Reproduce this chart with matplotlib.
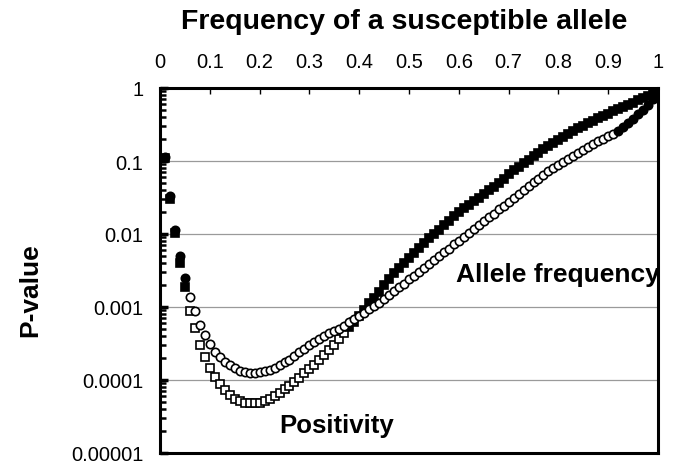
import numpy as np
import matplotlib
matplotlib.use("Agg")
import matplotlib.pyplot as plt
from matplotlib.ticker import LogLocator, NullFormatter

plt.rcParams['font.family'] = ['Liberation Sans', 'DejaVu Sans']

# Frequency of the susceptible allele (0.01 .. 1.00)
freq = np.round(np.arange(1, 101) * 0.01, 2)

# log10 P-values
positivity_log_p = [
    -0.96, -1.52, -1.99, -2.40, -2.73, -3.05, -3.29, -3.52, -3.69, -3.84,
    -3.96, -4.06, -4.14, -4.21, -4.26, -4.29, -4.31, -4.32, -4.32, -4.31,
    -4.29, -4.26, -4.22, -4.18, -4.13, -4.08, -4.03, -3.97, -3.91, -3.85,
    -3.79, -3.73, -3.66, -3.59, -3.52, -3.44, -3.36, -3.28, -3.20, -3.12,
    -3.04, -2.95, -2.87, -2.79, -2.70, -2.62, -2.54, -2.47, -2.40, -2.33,
    -2.26, -2.19, -2.12, -2.06, -2.00, -1.94, -1.88, -1.82, -1.76, -1.70,
    -1.65, -1.60, -1.55, -1.50, -1.45, -1.40, -1.35, -1.30, -1.25, -1.18,
    -1.13, -1.08, -1.03, -0.98, -0.93, -0.89, -0.84, -0.80, -0.75, -0.71,
    -0.67, -0.63, -0.59, -0.55, -0.52, -0.48, -0.45, -0.41, -0.38, -0.35,
    -0.32, -0.29, -0.26, -0.23, -0.20, -0.17, -0.14, -0.11, -0.08, -0.05,
]
allele_log_p = [
    -0.95, -1.48, -1.94, -2.30, -2.60, -2.86, -3.06, -3.24, -3.39, -3.51,
    -3.61, -3.69, -3.75, -3.80, -3.84, -3.87, -3.89, -3.90, -3.90, -3.89,
    -3.88, -3.86, -3.83, -3.80, -3.76, -3.72, -3.67, -3.62, -3.57, -3.52,
    -3.48, -3.44, -3.40, -3.36, -3.33, -3.30, -3.26, -3.21, -3.17, -3.13,
    -3.08, -3.03, -2.99, -2.94, -2.89, -2.84, -2.78, -2.73, -2.68, -2.62,
    -2.57, -2.52, -2.46, -2.41, -2.36, -2.30, -2.25, -2.20, -2.14, -2.09,
    -2.04, -1.98, -1.93, -1.88, -1.82, -1.77, -1.72, -1.66, -1.61, -1.56,
    -1.50, -1.45, -1.40, -1.34, -1.29, -1.24, -1.19, -1.14, -1.09, -1.05,
    -1.01, -0.97, -0.93, -0.89, -0.85, -0.81, -0.77, -0.73, -0.70, -0.66,
    -0.63, -0.59, -0.54, -0.48, -0.42, -0.36, -0.30, -0.23, -0.15, -0.06,
]
positivity_p = 10.0 ** np.array(positivity_log_p)
allele_p = 10.0 ** np.array(allele_log_p)

# points drawn filled (solid) in the original
positivity_filled = (freq <= 0.05) | (freq >= 0.38)
allele_filled = (freq <= 0.05) | (freq >= 0.92)

x_ticks = [0, 0.1, 0.2, 0.3, 0.4, 0.5, 0.6, 0.7, 0.8, 0.9, 1]
x_tick_labels = ['0', '0.1', '0.2', '0.3', '0.4', '0.5', '0.6', '0.7', '0.8', '0.9', '1']
y_ticks = [1e-5, 1e-4, 1e-3, 1e-2, 1e-1, 1]
y_tick_labels = ['0.00001', '0.0001', '0.001', '0.01', '0.1', '1']

fig = plt.figure(figsize=(6.76, 4.64), dpi=100)
ax = fig.add_axes([160 / 676, 1 - 454 / 464, 498 / 676, 365 / 464])

ax.set_yscale('log')
ax.set_xlim(0, 1)
ax.set_ylim(1e-5, 1)

ax.yaxis.grid(True, which='major', color='#9a9a9a', lw=0.9)
ax.set_axisbelow(True)

def draw(p, filled, marker, ms):
    p = np.asarray(p)
    ax.plot(freq[~filled], p[~filled], ls='none', marker=marker, ms=ms,
            mfc='white', mec='black', mew=1.2, zorder=3)
    ax.plot(freq[filled], p[filled], ls='none', marker=marker, ms=ms,
            mfc='black', mec='black', mew=1.2, zorder=3)

draw(positivity_p, positivity_filled, 's', 5.4)
draw(allele_p, allele_filled, 'o', 6.0)

for s in ax.spines.values():
    s.set_linewidth(2.2)
    s.set_color('black')

ax.xaxis.tick_top()
ax.set_xticks(x_ticks)
ax.set_xticklabels(x_tick_labels)
ax.tick_params(axis='x', which='major', direction='in', length=4, width=1,
               labelsize=14.5, pad=12, top=True, bottom=False)

ax.set_yticks(y_ticks)
ax.set_yticklabels(y_tick_labels)
ax.yaxis.set_minor_locator(LogLocator(base=10, subs=np.arange(2, 10), numticks=20))
ax.yaxis.set_minor_formatter(NullFormatter())
ax.tick_params(axis='y', which='major', direction='in', length=6, width=2.5,
               labelsize=14.5, pad=12, left=True, right=False)
ax.tick_params(axis='y', which='minor', direction='in', length=4, width=1.8,
               left=True, right=False)

fig.text(404 / 676, 1 - 22 / 464, 'Frequency of a susceptible allele',
         ha='center', va='center', fontsize=20.5, fontweight='bold')
fig.text(30 / 676, 1 - 290 / 464, 'P-value', ha='center', va='center',
         rotation=90, fontsize=19, fontweight='bold')

ax.text(0.595, 10 ** -2.55, 'Allele frequency', ha='left', va='center',
        fontsize=19, fontweight='bold')
ax.text(0.24, 10 ** -4.62, 'Positivity', ha='left', va='center',
        fontsize=18.5, fontweight='bold')

fig.savefig('out.png', dpi=100)
